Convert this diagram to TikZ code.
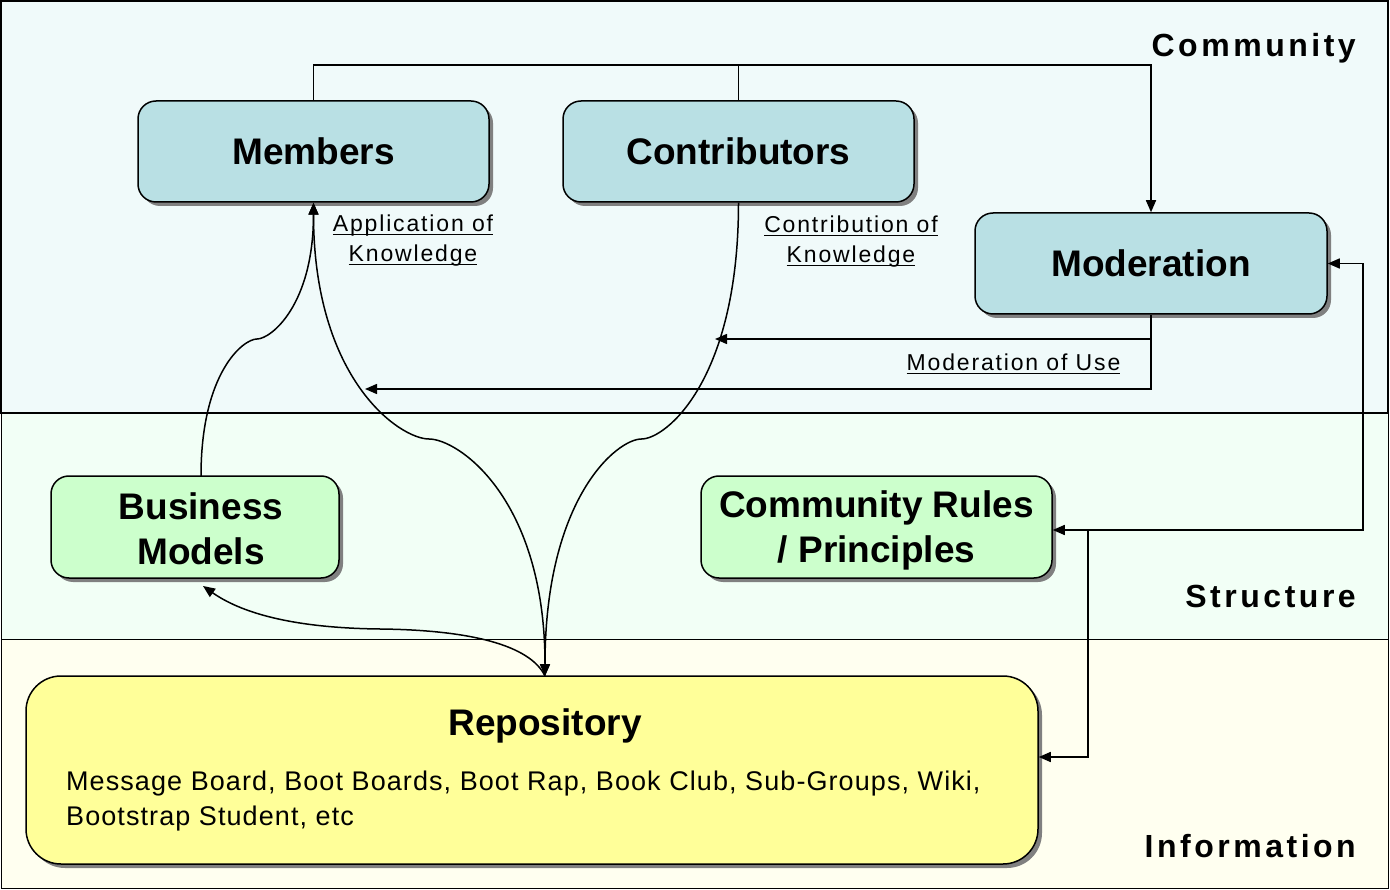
\documentclass[tikz,border=0pt]{standalone}
\usepackage{fontspec}
\setmainfont{Liberation Sans}
\newfontfamily\spacedfont[LetterSpace=8]{Liberation Sans}
\newfontfamily\grpfont[LetterSpace=11]{Liberation Sans}
\newfontfamily\bodyfont[LetterSpace=4]{Liberation Sans}
\usetikzlibrary{arrows.meta,shadows,calc}
\definecolor{commbg}{RGB}{240,250,250}
\definecolor{strbg}{RGB}{242,255,246}
\definecolor{infbg}{RGB}{255,255,240}
\definecolor{tealbox}{RGB}{185,224,228}
\definecolor{greenbox}{RGB}{204,255,204}
\definecolor{yellowbox}{RGB}{255,255,153}
\definecolor{shadowgray}{RGB}{128,128,128}
\newcommand\ulx[1]{\setbox0\hbox{#1}\rlap{\rule[-3.5pt]{\wd0}{1.8pt}}\box0}
\tikzset{
  box/.style={draw=black, line width=1.5pt, rounded corners=18pt, inner sep=0pt,
    font=\bfseries\fontsize{37}{44}\selectfont, align=center,
    drop shadow={shadow xshift=4pt, shadow yshift=-4pt, fill=shadowgray, opacity=1}},
  boxtext/.style={font=\bfseries\fontsize{37}{45}\selectfont, align=center, inner sep=0pt},
  grp/.style={font=\grpfont\bfseries\fontsize{32}{32}\selectfont, anchor=base east, inner sep=0pt},
  lbl/.style={font=\spacedfont\fontsize{23}{30}\selectfont, anchor=base, inner sep=0pt},
  body/.style={font=\bodyfont\fontsize{27}{35}\selectfont, anchor=base west, inner sep=0pt},
  conn/.style={line width=1.5pt, draw=black},
  >={Triangle[length=12pt,width=10pt]}
}
\begin{document}
\begin{tikzpicture}[x=1pt,y=-1pt]
\useasboundingbox (0,0) rectangle (1390,890);
% bands
\draw[line width=1pt, fill=strbg] (1,413) rectangle (1388,639);
\draw[line width=1pt, fill=infbg] (1,639) rectangle (1388,888);
\draw[line width=2pt, fill=commbg] (1,1) rectangle (1388,413);
\node[grp] (gcomm) at (1356,57) {Community};
\node[grp] (gstr) at (1356,607) {Structure};
\node[grp] (ginf) at (1356,857) {Information};
% boxes
\node[box, fill=tealbox, minimum width=351pt, minimum height=101pt] (mem) at (313.5,151.5) {Members};
\node[box, fill=tealbox, minimum width=351pt, minimum height=101pt] (con) at (738.5,151.5) {Contributors};
\node[box, fill=tealbox, minimum width=352pt, minimum height=101pt] (mod) at (1151,263.5) {Moderation};
\node[box, fill=greenbox, minimum width=288pt, minimum height=102pt] (bm) at (195,527) {};
\node[boxtext] (bmtext) at (201,529) {Business\\Models};
\node[box, fill=greenbox, minimum width=351pt, minimum height=102pt] (rul) at (876.5,527) {};
\node[boxtext] (rultext) at (876.5,530) {Community Rules\\/ Principles};
\node[box, rounded corners=35pt, fill=yellowbox, minimum width=1012pt, minimum height=188pt] (rep) at (532,770) {};
\node[boxtext, anchor=base] (reptitle) at (545,735) {Repository};
\node[body] (repb1) at (66,790) {Message Board, Boot Boards, Boot Rap, Book Club, Sub-Groups, Wiki,};
\node[body] (repb2) at (66,825) {Bootstrap Student, etc};
% labels
\node[lbl] (la1) at (413,232) {\ulx{Application of}};
\node[lbl] (la2) at (413,262) {\ulx{Knowledge}};
\node[lbl] (lc1) at (851,233) {\ulx{Contribution of}};
\node[lbl] (lc2) at (851,263) {\ulx{Knowledge}};
\node[lbl] (lm) at (1013.5,371) {\ulx{Moderation of Use}};
% coordinates
\coordinate (top) at (0,65);
\coordinate (rt) at (545,676);
\coordinate (bmt) at (201,476);
\coordinate (bmb) at (203,586);
\coordinate (ma) at (365,389);
\coordinate (mb) at (715,339);
\coordinate (rx) at (1363,0);
\coordinate (jx) at (1088,0);
% connectors
\draw[conn,->] (mem.north) |- (mod.north |- top) -- (mod.north);
\draw[conn] (con.north) -- (con.north |- top);
\draw[conn,->] (mod.south) |- (ma);
\draw[conn,->] (mod.south |- mb) -- (mb);
\draw[conn,<->] (mod.east) -- (mod.east -| rx) |- ([yshift=-3pt]rul.east);
\draw[conn,->] ([yshift=-3pt]rul.east -| jx) |- ([yshift=13pt]rep.east);
\draw[conn,<->] (mem.south) .. controls (313.5,380) and (400,439) .. (429,439)
   .. controls (458,439) and (545,498) .. (rt);
\draw[conn,->] (con.south) .. controls (738.5,380) and (666,439) .. (641.5,439)
   .. controls (617,439) and (545,498) .. (rt);
\draw[conn,->] (bmt) .. controls (201,373) and (243,339) .. (257,339)
   .. controls (271,339) and (313.5,305) .. (mem.south);
\draw[conn,->] (rt) .. controls (530,645) and (470,630) .. (380,629)
   .. controls (290,628) and (240,612) .. (bmb);
\end{tikzpicture}
\end{document}
